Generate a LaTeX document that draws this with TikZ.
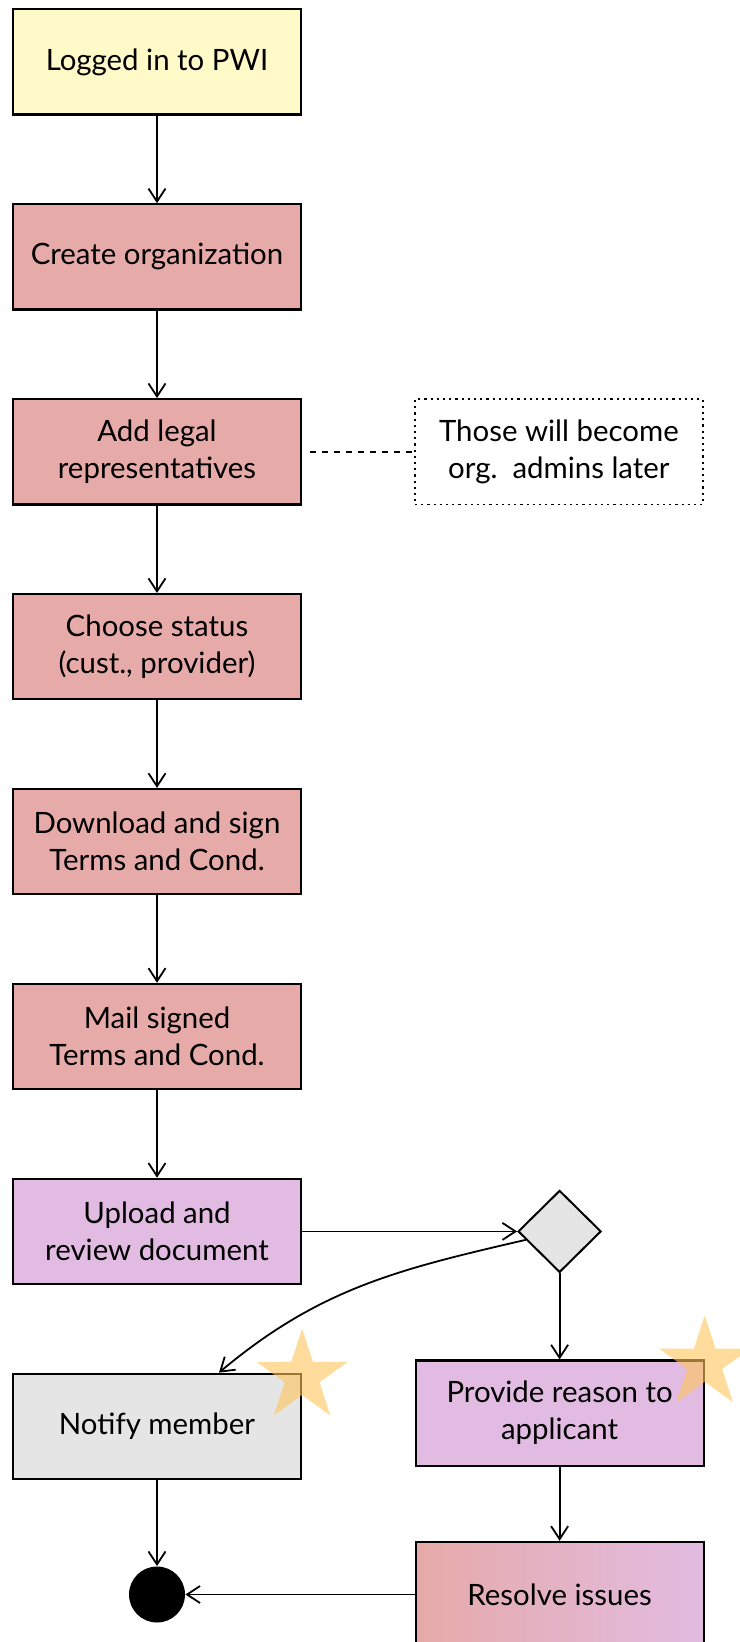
\documentclass[tikz,border=0pt]{standalone}
\usepackage{fontspec}
\setmainfont{Lato}
\usetikzlibrary{positioning,shapes.geometric,arrows.meta}

\definecolor{startyellow}{RGB}{255,250,200}
\definecolor{steppink}{RGB}{230,170,168}
\definecolor{reviewpurple}{RGB}{226,187,226}
\definecolor{lightgrey}{RGB}{229,229,229}
\definecolor{starorange}{RGB}{255,196,90}

\tikzstyle{stepbox} = [rectangle, draw, line width=1.1pt, minimum width=144pt,
	minimum height=52.6pt, align=center, font=\fontsize{14.7}{18.5}\selectfont]
\tikzstyle{flow} = [draw, line width=0.9pt, -{Straight Barb[length=6.5pt,width=8.5pt]}]
\tikzstyle{starmark} = [star, star points=5, star point ratio=2.618, minimum size=48pt,
	inner sep=0pt, fill=starorange, fill opacity=0.6]

\begin{document}
\begin{tikzpicture}[node distance=43.75pt and 56pt]
\useasboundingbox (-78.5pt,31pt) rectangle (291pt,-790pt);

% main chain
\node [stepbox, fill=startyellow] (login) {Logged in to PWI};
\node [stepbox, fill=steppink, below=of login] (org) {Create organization};
\node [stepbox, fill=steppink, below=of org] (legal) {Add legal\\representatives};
\node [stepbox, fill=steppink, below=of legal] (status) {Choose status\\(cust., provider)};
\node [stepbox, fill=steppink, below=of status] (sign) {Download and sign\\Terms and Cond.};
\node [stepbox, fill=steppink, below=of sign] (mail) {Mail signed\\Terms and Cond.};
\node [stepbox, fill=reviewpurple, below=of mail] (upload) {Upload and\\review document};

% note
\node [stepbox, dotted, line width=0.8pt, right=of legal] (note) {Those will become\\org.\ \ admins later};

% decision
\node [diamond, draw, line width=1pt, fill=lightgrey, inner sep=0pt, minimum width=41.5pt,
	minimum height=41pt, right=107.5pt of upload] (dec) {};
\node [stepbox, fill=lightgrey, below=of upload] (notify) {Notify member};
\node [stepbox, fill=reviewpurple, below=43pt of dec] (reason) {Provide reason to\\applicant};
\node [stepbox, left color=steppink, right color=reviewpurple, below=37pt of reason] (resolve) {Resolve issues};
\node [circle, fill=black, minimum size=28pt, inner sep=0pt] (final) at (notify |- resolve) {};

% connectors
\draw [flow] (login) -- (org);
\draw [flow] (org) -- (legal);
\draw [flow] (legal) -- (status);
\draw [flow] (status) -- (sign);
\draw [flow] (sign) -- (mail);
\draw [flow] (mail) -- (upload);
\draw [line width=0.9pt, dashed] ([xshift=4pt]legal.east) -- (note);
\draw [flow] (upload) -- (dec);
\draw [flow] (dec.194) to[out=193, in=40] ([xshift=31pt]notify.north);
\draw [flow] (dec) -- (reason);
\draw [flow] (reason) -- (resolve);
\draw [flow] (notify) -- (final);
\draw [flow] (resolve) -- (final);

% stars
\node [starmark, yshift=-2pt] (star1) at (notify.north east) {};
\node [starmark, yshift=-2pt] (star2) at (reason.north east) {};
\end{tikzpicture}
\end{document}
